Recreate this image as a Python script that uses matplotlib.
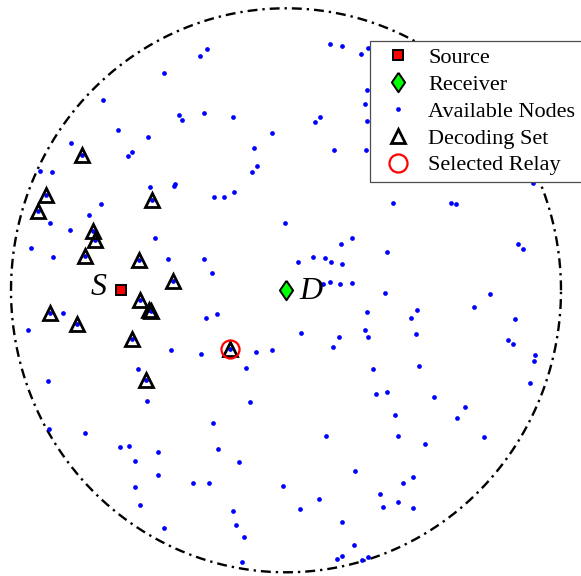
import numpy as np
import matplotlib.pyplot as plt
from matplotlib.lines import Line2D

# Network of radius 100, source and receiver positions
source = (-60.1, 0.0)
receiver = (0.0, 0.0)

# Available nodes (not in the decoding set)
node_x = [-44.5, -66.4, -38.8, -37.9, -61.2, -50.2, -78.2, -56.1, -57.3, -89.6,
          -85.0, -49.3, -40.5, -40.8, -28.8, -31.2, 15.9, 20.5, 27.3, 29.9,
          29.6, 28.8, 29.6, -29.8, -19.4, 12.5, 10.4, -5.1, -11.5, 17.5,
          29.0, -10.5, -12.3, -18.9, 89.8, -67.2, -71.7, -85.8, -78.4, -47.7,
          -92.7, -84.8, -42.8, -81.2, -93.7, -41.7, -53.9, -86.4, -26.2, -22.4,
          -0.3, 24.1, 20.1, 36.8, -29.9, 4.5, 9.8, 14.1, 16.3, 20.4,
          -26.9, 13.3, 16.0, 19.7, 24.1, 36.0, 29.5, -29.0, -25.1, 5.3,
          28.8, 29.8, 19.2, 17.0, -30.9, -11.0, -5.0, -14.7, 31.7, 38.9,
          60.0, 61.7, 84.5, 86.1, 74.2, 68.5, 47.7, 45.6, 83.3, 47.3,
          80.7, 82.4, 90.7, 90.2, 48.3, 88.7, -50.5, -86.2, -73.2, -60.4,
          -57.1, -46.7, -54.8, -46.7, -33.8, -54.9, -53.0, -44.3, -13.0, 32.8,
          36.7, -26.5, 14.4, -24.7, -17.2, 25.2, -27.9, -1.0, 34.1, 11.9,
          35.3, -19.2, 5.2, -18.3, 20.5, -15.3, 24.6, 20.5, 18.5, 29.7,
          27.5, -16.0, 53.7, 65.0, 39.6, 62.1, 40.8, 72.0, 50.5, 46.3,
          42.4, 40.7, 46.2]
node_y = [77.1, 67.5, 62.2, 60.3, 57.0, 54.5, 52.1, 48.9, 47.7, 42.3,
          42.1, 36.7, 37.7, 37.1, 85.5, 83.1, 87.2, 86.5, 83.7, 85.8,
          71.1, 66.2, 59.9, 62.9, 61.3, 61.3, 59.6, 55.8, 50.6, 49.6,
          49.6, 44.2, 42.0, 35.0, 37.9, 30.5, 26.7, 24.0, 21.3, 18.4,
          14.9, 11.7, 11.1, -8.0, -14.1, -21.1, -27.9, -32.1, 33.1, 33.2,
          24.0, 18.4, 16.3, 13.6, 11.2, 10.1, 11.9, 11.5, 9.9, 9.2,
          6.2, 2.1, 2.8, 2.1, 2.6, -1.1, -7.6, -9.9, -8.5, -15.2,
          -14.2, -16.7, -16.6, -20.2, -22.5, -22.0, -21.2, -27.7, -28.0, 31.0,
          31.1, 30.5, 16.4, 14.6, -1.4, -6.0, -7.0, -9.8, -10.1, -15.4,
          -17.7, -19.1, -22.9, -25.1, -27.0, -32.9, -39.4, -49.1, -50.6, -55.6,
          -55.1, -57.2, -60.6, -65.5, -68.3, -69.8, -76.1, -84.4, -39.5, -36.8,
          -36.1, -47.1, -51.6, -56.2, -61.0, -64.0, -68.3, -69.3, -72.3, -74.1,
          -76.8, -78.2, -77.7, -83.2, -82.1, -87.4, -90.3, -94.2, -95.2, -94.6,
          -95.7, -96.3, -37.9, -41.3, -44.3, -45.2, -51.7, -52.0, -54.5, -66.1,
          -68.2, -75.2, -77.1]

# Decoding set nodes
decode_x = [-74.1, -87.3, -90.3, -48.8, -70.1, -69.5, -73.0, -53.6, -41.2,
            -53.1, -49.9, -49.1, -85.8, -75.9, -56.0, -50.9, -20.5]
decode_y = [48.0, 33.8, 28.1, 31.9, 20.9, 17.9, 12.1, 10.7, 3.3,
            -3.3, -7.1, -7.3, -8.2, -12.1, -17.2, -31.9, -20.7]

# Relay chosen from the decoding set
relay = (-20.5, -20.7)

plt.rcParams['font.family'] = ['Liberation Serif', 'DejaVu Serif']

fig = plt.figure(figsize=(5.81, 5.76), dpi=100)
ax = fig.add_axes([11 / 581, 3.7 / 576, 550 / 581, 564 / 576])
ax.set_xlim(-100, 100)
ax.set_ylim(-100, 100)
ax.axis('off')

# network boundary
t = np.linspace(0, 2 * np.pi, 721)
ax.plot(100 * np.cos(t), 100 * np.sin(t), color='black', lw=1.7,
        linestyle=(0, (4.2, 2.1, 1, 2.1)), clip_on=False, zorder=1)

dot_style = dict(linestyle='none', marker='o', color='blue', markersize=3.4,
                 markeredgewidth=0)
tri_style = dict(linestyle='none', marker='^', markersize=9.8,
                 markerfacecolor='none', markeredgecolor='black', markeredgewidth=2.0)
sq_style = dict(linestyle='none', marker='s', markersize=7.2,
                markerfacecolor='red', markeredgecolor='black', markeredgewidth=1.4)
diamond = [(0, 1), (0.68, 0), (0, -1), (-0.68, 0), (0, 1)]
dia_style = dict(linestyle='none', marker=diamond, markersize=14,
                 markerfacecolor='#00ff00', markeredgecolor='black', markeredgewidth=1.4)
relay_style = dict(linestyle='none', marker='o', markersize=13,
                   markerfacecolor='none', markeredgecolor='red', markeredgewidth=1.6)

ax.plot(node_x + decode_x, node_y + decode_y, zorder=2, **dot_style)
ax.plot(decode_x, decode_y, zorder=3, **tri_style)
ax.plot(*relay, zorder=4, **relay_style)
ax.plot(*source, zorder=4, **sq_style)
ax.plot(*receiver, zorder=4, **dia_style)

ax.text(-68.0, 1.0, 'S', fontsize=23, style='italic', ha='center', va='center')
ax.text(9.1, -0.5, 'D', fontsize=23, style='italic', ha='center', va='center')

handles = [Line2D([], [], **sq_style), Line2D([], [], **dia_style),
           Line2D([], [], **dot_style), Line2D([], [], **tri_style),
           Line2D([], [], **relay_style)]
labels = ['Source', 'Receiver', 'Available Nodes', 'Decoding Set', 'Selected Relay']
leg = fig.legend(handles, labels, loc='upper left',
                 bbox_to_anchor=(370 / 581, 1 - 41 / 576),
                 bbox_transform=fig.transFigure, borderaxespad=0,
                 fontsize=16, numpoints=1, fancybox=False, framealpha=1,
                 borderpad=0.3, labelspacing=0.28, handlelength=1.95,
                 handletextpad=0.38)
leg.get_frame().set_edgecolor('0.3')
leg.get_frame().set_linewidth(0.9)
leg.set_zorder(10)

plt.savefig('out.png', dpi=100)
